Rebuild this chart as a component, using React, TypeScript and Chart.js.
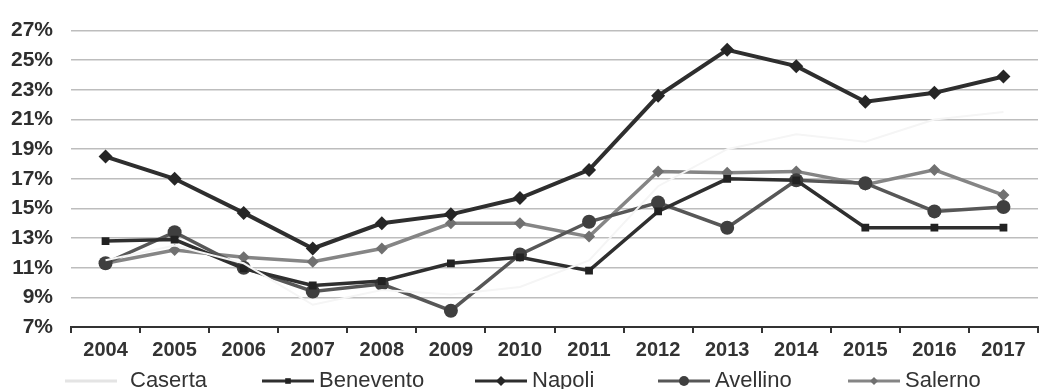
import React, { useEffect, useRef } from "react";
import { Chart, registerables } from "chart.js";

Chart.register(...registerables);

const years = ["2004", "2005", "2006", "2007", "2008", "2009", "2010", "2011", "2012", "2013", "2014", "2015", "2016", "2017"];
const caserta = [11.5, 12.5, 11.3, 8.5, 9.5, 9.2, 9.7, 11.5, 16.5, 19.0, 20.0, 19.5, 21.0, 21.5];
const benevento = [12.8, 12.9, 10.95, 9.8, 10.1, 11.3, 11.7, 10.8, 14.8, 17.0, 16.9, 13.7, 13.7, 13.7];
const napoli = [18.5, 17.0, 14.7, 12.3, 14.0, 14.6, 15.7, 17.6, 22.6, 25.7, 24.6, 22.2, 22.8, 23.9];
const avellino = [11.3, 13.4, 11.0, 9.4, 9.9, 8.1, 11.9, 14.1, 15.4, 13.7, 16.9, 16.7, 14.8, 15.1];
const salerno = [11.3, 12.2, 11.7, 11.4, 12.3, 14.0, 14.0, 13.1, 17.5, 17.4, 17.5, 16.6, 17.6, 15.9];
const seriesNames = ["Caserta", "Benevento", "Napoli", "Avellino", "Salerno"];
const yMin = 7;
const yMax = 27;
const yStep = 2;

const FONT = "'Liberation Sans', Arial, sans-serif";
const legendX = [65, 262, 475, 658, 848];

function drawMarker(ctx: CanvasRenderingContext2D, style: string, x: number, y: number, r: number, color: string) {
  ctx.save();
  ctx.fillStyle = color;
  ctx.beginPath();
  if (style === "rect") {
    ctx.rect(x - r * 0.8, y - r * 0.8, r * 1.6, r * 1.6);
  } else if (style === "rectRot") {
    ctx.moveTo(x, y - r);
    ctx.lineTo(x + r, y);
    ctx.lineTo(x, y + r);
    ctx.lineTo(x - r, y);
    ctx.closePath();
  } else if (style === "circle") {
    ctx.arc(x, y, r, 0, Math.PI * 2);
  }
  ctx.fill();
  ctx.restore();
}

const legendPlugin = {
  id: "customLegend",
  afterDraw(chart: any) {
    const ctx: CanvasRenderingContext2D = chart.ctx;
    const y = 381;
    chart.data.datasets.forEach((ds: any, i: number) => {
      const x0 = legendX[i];
      ctx.save();
      ctx.strokeStyle = i === 0 ? "#e4e4e4" : ds.borderColor;
      ctx.lineWidth = 3;
      ctx.beginPath();
      ctx.moveTo(x0, y);
      ctx.lineTo(x0 + 52, y);
      ctx.stroke();
      if (ds.pointStyle && ds.pointRadius > 0 && i > 0) {
        drawMarker(ctx, ds.pointStyle, x0 + 26, y, Math.max(3.5, ds.pointRadius - 2), ds.pointBackgroundColor);
      }
      ctx.fillStyle = "#333";
      ctx.font = `22px ${FONT}`;
      ctx.textBaseline = "middle";
      ctx.textAlign = "left";
      ctx.fillText(ds.label, x0 + (i === 0 ? 65 : 57), y);
      ctx.restore();
    });
  },
};

export default function App() {
  const ref = useRef<HTMLCanvasElement | null>(null);

  useEffect(() => {
    document.body.style.margin = "0";
    const canvas = ref.current;
    if (!canvas) return;
    const mk = (label: string, data: number[], color: string, pointColor: string, style: string, radius: number, width: number) => ({
      label,
      data,
      borderColor: color,
      backgroundColor: pointColor,
      pointBackgroundColor: pointColor,
      pointBorderColor: pointColor,
      pointStyle: style,
      pointRadius: radius,
      pointBorderWidth: 0,
      borderWidth: width,
      tension: 0,
      fill: false,
    });
    const chart = new Chart(canvas, {
      type: "line",
      data: {
        labels: years,
        datasets: [
          mk(seriesNames[0], caserta, "#f5f5f5", "#f5f5f5", "circle", 0, 2),
          mk(seriesNames[1], benevento, "#2f2f2f", "#222222", "rect", 5.5, 3.5),
          mk(seriesNames[2], napoli, "#2e2e2e", "#262626", "rectRot", 7, 4),
          mk(seriesNames[3], avellino, "#575757", "#3f3f3f", "circle", 7, 3.5),
          mk(seriesNames[4], salerno, "#858585", "#707070", "rectRot", 6, 3.5),
        ],
      },
      options: {
        responsive: false,
        animation: false,
        layout: { padding: { top: 23, right: 0, bottom: 22, left: 0 } },
        plugins: {
          legend: { display: false },
          tooltip: { enabled: false },
        },
        scales: {
          x: {
            offset: true,
            grid: {
              display: true,
              drawOnChartArea: false,
              drawTicks: true,
              tickLength: 6,
              color: "#333",
              lineWidth: 2,
              offset: true,
            },
            border: { display: true, color: "#333", width: 2 },
            ticks: {
              color: "#333",
              font: { family: FONT, size: 20, weight: "bold" },
              padding: 5,
              maxRotation: 0,
              autoSkip: false,
            },
            afterFit(scale: any) {
              scale.height = 40;
            },
          },
          y: {
            min: yMin,
            max: yMax,
            grid: {
              color: (c: any) => (c.tick && c.tick.value === yMin ? "rgba(0,0,0,0)" : "#bdbdbd"),
              lineWidth: 1.5,
              drawTicks: false,
            },
            border: { display: false },
            ticks: {
              stepSize: yStep,
              color: "#2e2e2e",
              font: { family: FONT, size: 21, weight: "bold" },
              padding: 18,
              callback: (v: any) => `${v}%`,
            },
            afterFit(scale: any) {
              scale.width = 71;
            },
          },
        },
      },
      plugins: [legendPlugin],
    } as any);
    return () => chart.destroy();
  }, []);

  return (
    <div style={{ width: 1045, height: 389, background: "#fff" }}>
      <canvas ref={ref} width={1045} height={389} />
    </div>
  );
}
